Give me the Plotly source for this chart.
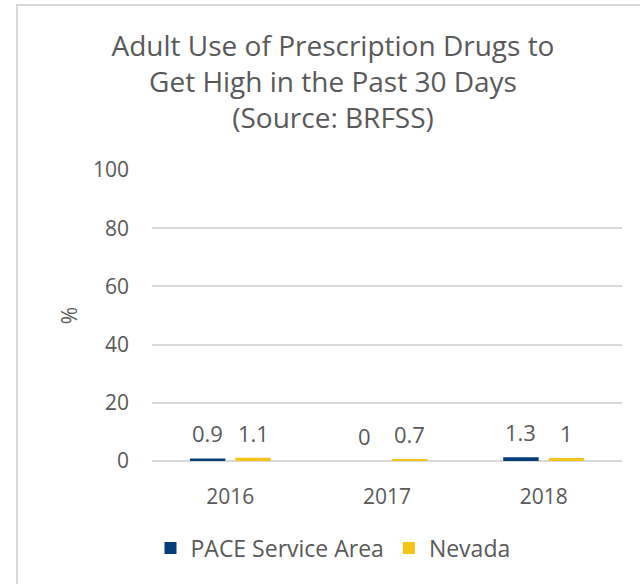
import plotly.graph_objects as go

# ---- data ----
years = ["2016", "2017", "2018"]
pace_values = [0.9, 0, 1.3]
nevada_values = [1.1, 0.7, 1]
series_names = ["PACE Service Area", "Nevada"]
y_tick_values = [0, 20, 40, 60, 80, 100]
title_lines = ["Adult Use of Prescription Drugs to", "Get High in the Past 30 Days", "(Source: BRFSS)"]

# ---- layout constants ----
W, H = 640, 584
L, R, T, B = 152, 18, 170, 123
PW, PH = W - L - R, H - T - B
BARGAP, GROUPGAP = 0.42, 0.22
FONT = "Open Sans"
GREY = "#595959"
COLORS = ["#063d78", "#f4c416"]

xpos = list(range(len(years)))

fig = go.Figure()
for name, vals, col in zip(series_names, [pace_values, nevada_values], COLORS):
    fig.add_trace(go.Bar(x=xpos, y=vals, name=name, marker=dict(color=col, line=dict(width=0))))

# data labels above bars
cat_w = PW / len(years)
slot = cat_w * (1 - BARGAP) / 2
for k, vals in enumerate([pace_values, nevada_values]):
    shift = (k - 0.5) * slot
    for xi, v in zip(xpos, vals):
        fig.add_annotation(x=xi, y=v, xref="x", yref="y", text=f"{v:g}", showarrow=False,
                           xshift=shift, yshift=25, yanchor="middle",
                           font=dict(family=FONT, size=22, color=GREY))

# chart border
fig.add_shape(type="rect", xref="paper", yref="paper",
              x0=(17 - L) / PW, x1=(W + 20 - L) / PW,
              y0=(H - B - (H + 20)) / PH, y1=(H - B - 5) / PH,
              line=dict(color="#d9d9d9", width=2), fillcolor="rgba(0,0,0,0)", layer="below")

fig.update_layout(
    width=W, height=H,
    margin=dict(l=L, r=R, t=T, b=B),
    paper_bgcolor="white", plot_bgcolor="white",
    barmode="group", bargap=BARGAP, bargroupgap=GROUPGAP,
    font=dict(family=FONT, color=GREY, size=21),
    title=dict(text="<br>".join(title_lines), x=333 / W, xanchor="center", xref="container",
               y=1 - 55.5 / H, yanchor="middle", yref="container",
               font=dict(family=FONT, size=28, color=GREY)),
    showlegend=True,
    legend=dict(orientation="h", xref="container", yref="container", x=333 / W, xanchor="center",
                y=1 - 548 / H, yanchor="middle", font=dict(family=FONT, size=23, color=GREY),
                bgcolor="rgba(0,0,0,0)"),
    xaxis=dict(range=[-0.5, len(years) - 0.5], tickvals=xpos, ticktext=years,
               showgrid=False, showline=False, zeroline=False, ticks="", ticklabelstandoff=21,
               tickfont=dict(family=FONT, size=21, color=GREY)),
    yaxis=dict(range=[0, 100], tickvals=y_tick_values, showgrid=True, gridcolor="#d9d9d9", gridwidth=1.5,
               zeroline=True, zerolinecolor="#d9d9d9", zerolinewidth=2, showline=False, ticks="",
               ticklabelstandoff=22, tickfont=dict(family=FONT, size=21, color=GREY),
               title=dict(text="%", font=dict(family=FONT, size=21, color=GREY), standoff=9)),
)

fig.write_html("out.html", config={"displayModeBar": False},
               post_script="document.body.style.margin='0';")
